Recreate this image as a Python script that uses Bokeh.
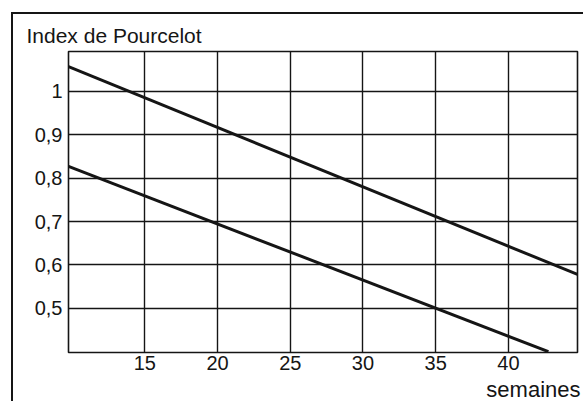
from bokeh.plotting import figure
from bokeh.models import FixedTicker, Range1d, Title
from bokeh.embed import file_html
from bokeh.resources import INLINE

# Data
upper_weeks = [9.75, 44.75]
upper_index = [1.057, 0.578]
lower_weeks = [9.75, 42.75]
lower_index = [0.827, 0.400]

x_ticks = [15, 20, 25, 30, 35, 40]
y_ticks = [0.5, 0.6, 0.7, 0.8, 0.9, 1.0]
y_tick_labels = ["0,5", "0,6", "0,7", "0,8", "0,9", "1"]

y_title = "Index de Pourcelot"
x_title = "semaines"

FONT = "Liberation Sans"
INK = "#151515"

# the canvas starts right inside the outer (top/left) border of the original figure
X0, Y0 = 13, 14
W, H = 585 - X0, 403 - Y0

p = figure(width=W, height=H, output_backend="svg", toolbar_location=None,
           x_range=Range1d(9.75, 44.75), y_range=Range1d(0.398, 1.092),
           min_border_left=68 - X0, min_border_right=8,
           min_border_top=51 - Y0, min_border_bottom=51)

p.margin = (Y0 - 2, 0, 0, X0 - 2)
p.styles = {"border-left": "2px solid #151515", "border-top": "2px solid #151515"}

p.background_fill_color = "white"
p.border_fill_color = "white"
p.outline_line_color = INK
p.outline_line_width = 1.6

for ax in (p.xaxis[0], p.yaxis[0]):
    ax.axis_line_color = None
    ax.major_tick_line_color = None
    ax.minor_tick_line_color = None
    ax.major_tick_out = 0
    ax.major_tick_in = 0
    ax.major_label_text_font = FONT
    ax.major_label_text_font_size = "20px"
    ax.major_label_text_color = INK

p.xaxis[0].ticker = FixedTicker(ticks=x_ticks)
p.xaxis[0].major_label_standoff = 3
p.yaxis[0].ticker = FixedTicker(ticks=y_ticks)
p.yaxis[0].major_label_overrides = {t: l for t, l in zip(y_ticks, y_tick_labels)}
p.yaxis[0].major_label_standoff = 6
p.yaxis[0].major_label_text_baseline = "alphabetic"

p.xgrid[0].ticker = FixedTicker(ticks=x_ticks)
p.ygrid[0].ticker = FixedTicker(ticks=y_ticks)
for g in (p.xgrid[0], p.ygrid[0]):
    g.grid_line_color = INK
    g.grid_line_width = 1.4
    g.grid_line_alpha = 1.0

p.line(upper_weeks, upper_index, line_color=INK, line_width=3)
p.line(lower_weeks, lower_index, line_color=INK, line_width=3)

p.title.text = y_title
p.title.align = "left"
p.title.vertical_align = "top"
p.title.offset = 26 - 68
p.title.standoff = 6
p.title.text_font = FONT
p.title.text_font_size = "21px"
p.title.text_font_style = "normal"
p.title.text_color = INK

p.add_layout(Title(text=x_title, align="right", offset=-3, standoff=4,
                   text_font=FONT, text_font_size="22px", text_font_style="normal",
                   text_color=INK), "below")

open("out.html", "w").write(file_html(p, INLINE))
